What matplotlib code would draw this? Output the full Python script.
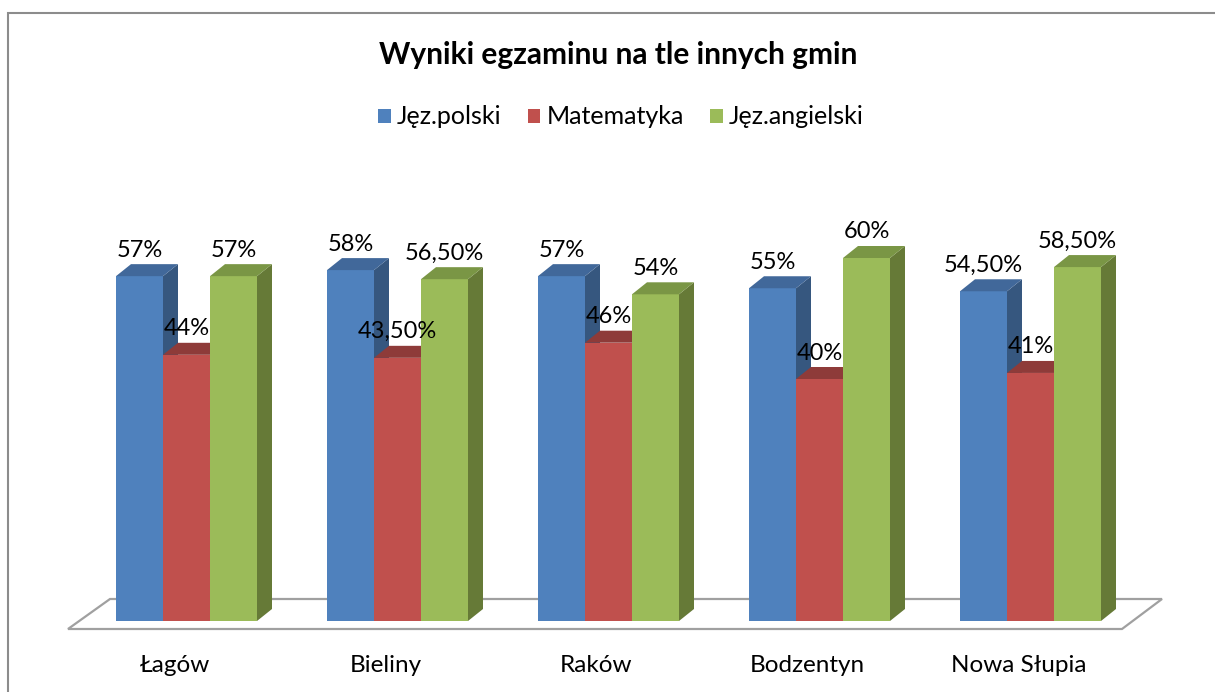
import matplotlib
matplotlib.use("Agg")
import matplotlib.pyplot as plt
from matplotlib.patches import Polygon, Rectangle, Patch

categories = ["Łagów", "Bieliny", "Raków", "Bodzentyn", "Nowa Słupia"]
series_names = ["Jęz.polski", "Matematyka", "Jęz.angielski"]
polski = [57, 58, 57, 55, 54.5]
matematyka = [44, 43.5, 46, 40, 41]
angielski = [57, 56.5, 54, 60, 58.5]
series = [polski, matematyka, angielski]

front_cols = ["#4F81BD", "#C0504D", "#9BBB59"]
top_cols = ["#41689A", "#8E3B39", "#7A9645"]
side_cols = ["#36577F", "#8A3735", "#667A37"]

W, H = 1215, 692
fig = plt.figure(figsize=(W / 100, H / 100), dpi=100)
FONT = "Lato"

px_x = 211.0      # pixels per category unit
px_y = 6.05       # pixels per percent
x_left_px = 59.9
base_px = 621
ymax = 70
ax = fig.add_axes([x_left_px / W, (H - base_px) / H, (px_x * 5.2) / W, (ymax * px_y) / H])
ax.set_xlim(-0.6, 4.6)
ax.set_ylim(0, ymax)
ax.axis("off")

# chart border
fig.patches.append(Rectangle((8 / W, -0.1), 1.2, (H - 13) / H + 0.1, transform=fig.transFigure,
                             fill=False, edgecolor="#8C8C8C", linewidth=1.5))

bw = 47 / px_x
dx = 15 / px_x
dy = 12 / px_y

# floor
fl_front = -8 / px_y
fl_back = 22 / px_y
floor = Polygon([(-0.6 + (68 - x_left_px) / px_x, fl_front),
                 (-0.6 + (1122 - x_left_px) / px_x, fl_front),
                 (-0.6 + (1162 - x_left_px) / px_x, fl_back),
                 (-0.6 + (110 - x_left_px) / px_x, fl_back)],
                closed=True, facecolor="white", edgecolor="#A0A0A0", linewidth=1.6,
                zorder=1, clip_on=False)
ax.add_patch(floor)

z = 2
for i, cat in enumerate(categories):
    for s, vals in enumerate(series):
        v = vals[i]
        x0 = i - 1.5 * bw + s * bw
        x1 = x0 + bw
        ax.bar(x0, v, width=bw, align="edge", color=front_cols[s], zorder=z, linewidth=0)
        ax.add_patch(Polygon([(x1, 0), (x1 + dx, dy), (x1 + dx, v + dy), (x1, v)], closed=True,
                             facecolor=side_cols[s], edgecolor="none", zorder=z, clip_on=False))
        ax.add_patch(Polygon([(x0, v), (x1, v), (x1 + dx, v + dy), (x0 + dx, v + dy)], closed=True,
                             facecolor=top_cols[s], edgecolor="none", zorder=z, clip_on=False))
        z += 1
    for s, vals in enumerate(series):
        v = vals[i]
        x0 = i - 1.5 * bw + s * bw
        lab = (f"{v:.2f}".replace(".", ",") if v != int(v) else f"{int(v)}") + "%"
        ax.text(x0 + bw / 2, v + dy + 14 / px_y, lab, ha="center", va="center",
                fontsize=17, family=FONT, color="black", zorder=50)
    ax.text(i - 12 / px_x, -44 / px_y, cat, ha="center", va="center", fontsize=17.5,
            family=FONT, color="black")

fig.text(618 / W, 1 - 55 / H, "Wyniki egzaminu na tle innych gmin", ha="center", va="center",
         fontsize=21.5, fontweight="bold", family=FONT)

handles = [Patch(facecolor=c, edgecolor="none") for c in front_cols]
fig.legend(handles, series_names, loc="center", bbox_to_anchor=(621 / W, 1 - 117 / H), ncol=3,
           frameon=False, prop={"family": FONT, "size": 18}, handlelength=0.5,
           handleheight=0.5, handletextpad=0.25, columnspacing=1.05)

fig.savefig("out.png", dpi=100)
